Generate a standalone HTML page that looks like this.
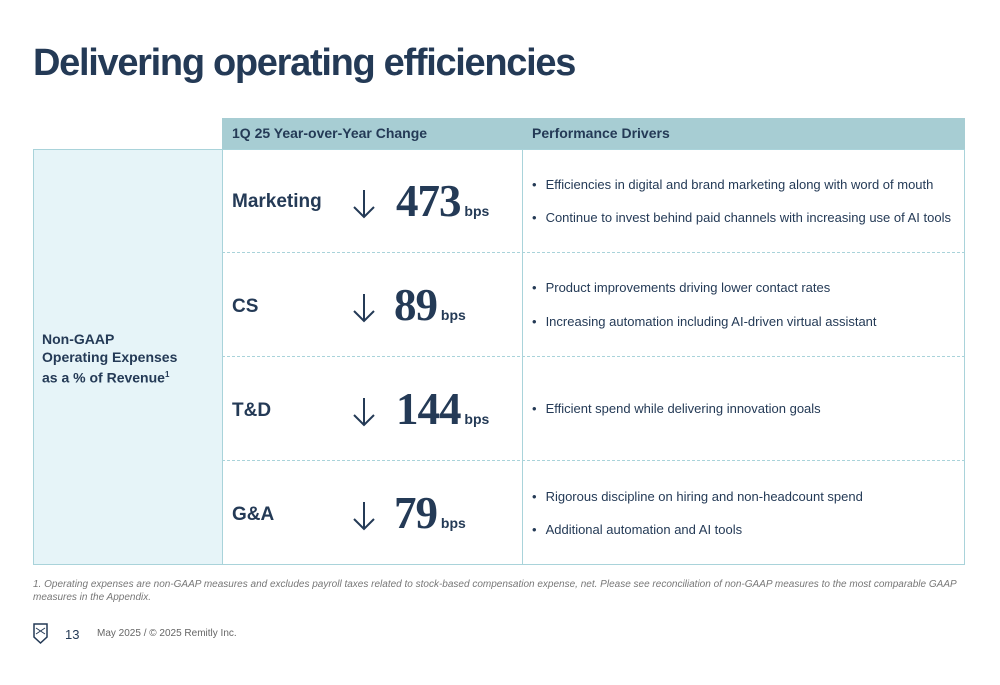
<!DOCTYPE html>
<html><head><meta charset="utf-8"><style>
body{margin:0;width:1000px;height:685px;background:#fff;position:relative;overflow:hidden;font-family:"Liberation Sans",sans-serif;color:#243a56}
.a{position:absolute}
h1{position:absolute;left:33px;top:42px;margin:0;font-size:38px;font-weight:bold;letter-spacing:-1.3px;color:#243a56}
.hdr{background:#a7cdd3;font-weight:bold;font-size:14px;line-height:31px;top:118px;height:31px}
.lbl{font-weight:bold;font-size:19px;left:232px}
.num{font-family:"Liberation Serif",serif;font-weight:bold;font-size:45px;letter-spacing:-1px}
.bps{font-weight:bold;font-size:14px}
.arr{left:352px}
.dash{left:222px;width:743px;border-top:1px dashed #a9d3da;height:0}
.b{font-size:13px;left:532px}
.b::before{content:"•";margin-right:9px}
</style></head><body>
<h1>Delivering operating efficiencies</h1>
<div class="a hdr" style="left:222px;width:300px;padding-left:10px;box-sizing:border-box">1Q 25 Year-over-Year Change</div>
<div class="a hdr" style="left:522px;width:443px;padding-left:10px;box-sizing:border-box">Performance Drivers</div>
<div class="a" style="left:33px;top:149px;width:188px;height:414px;background:#e6f4f8;border:1px solid #a9d3da"></div>
<div class="a" style="left:222px;top:149px;width:742px;height:414px;border:1px solid #a9d3da;border-left:none"></div>
<div class="a" style="left:522px;top:149px;width:1px;height:415px;background:#a9d3da"></div>
<div class="a" style="left:42px;top:330px;font-weight:bold;font-size:14px;line-height:18px">Non-GAAP<br>Operating Expenses<br>as a % of Revenue<sup style="font-size:8px">1</sup></div>
<div class="a dash" style="top:252px"></div>
<div class="a dash" style="top:356px"></div>
<div class="a dash" style="top:460px"></div>

<div class="a lbl" style="top:191px">Marketing</div>
<svg class="a arr" style="top:188px" width="24" height="32" viewBox="0 0 24 32"><path d="M12 2V29M2 19L12 29L22 19" fill="none" stroke="#243a56" stroke-width="2"/></svg>
<div class="a" style="left:396px;top:175px"><span class="num">473</span><span class="bps"> bps</span></div>

<div class="a lbl" style="top:296px">CS</div>
<svg class="a arr" style="top:292px" width="24" height="32" viewBox="0 0 24 32"><path d="M12 2V29M2 19L12 29L22 19" fill="none" stroke="#243a56" stroke-width="2"/></svg>
<div class="a" style="left:394px;top:279px"><span class="num">89</span><span class="bps"> bps</span></div>

<div class="a lbl" style="top:400px">T&amp;D</div>
<svg class="a arr" style="top:396px" width="24" height="32" viewBox="0 0 24 32"><path d="M12 2V29M2 19L12 29L22 19" fill="none" stroke="#243a56" stroke-width="2"/></svg>
<div class="a" style="left:396px;top:383px"><span class="num">144</span><span class="bps"> bps</span></div>

<div class="a lbl" style="top:504px">G&amp;A</div>
<svg class="a arr" style="top:500px" width="24" height="32" viewBox="0 0 24 32"><path d="M12 2V29M2 19L12 29L22 19" fill="none" stroke="#243a56" stroke-width="2"/></svg>
<div class="a" style="left:394px;top:487px"><span class="num">79</span><span class="bps"> bps</span></div>

<div class="a b" style="top:177px">Efficiencies in digital and brand marketing along with word of mouth</div>
<div class="a b" style="top:210px">Continue to invest behind paid channels with increasing use of AI tools</div>
<div class="a b" style="top:280px">Product improvements driving lower contact rates</div>
<div class="a b" style="top:314px">Increasing automation including AI-driven virtual assistant</div>
<div class="a b" style="top:401px">Efficient spend while delivering innovation goals</div>
<div class="a b" style="top:489px">Rigorous discipline on hiring and non-headcount spend</div>
<div class="a b" style="top:522px">Additional automation and AI tools</div>

<div class="a" style="left:33px;top:578px;width:930px;font-size:10px;font-style:italic;color:#777;line-height:13px">1. Operating expenses are non-GAAP measures and excludes payroll taxes related to stock-based compensation expense, net. Please see reconciliation of non-GAAP measures to the most comparable GAAP measures in the Appendix.</div>
<svg class="a" style="left:33px;top:623px" width="15" height="22" viewBox="0 0 15 22"><path d="M1 1h13v13l-6.5 6l-6.5-6z" fill="none" stroke="#243a56" stroke-width="1.5"/><path d="M3 5l9 6M12 5l-9 6" stroke="#243a56" stroke-width="1"/></svg>
<div class="a" style="left:65px;top:627px;font-size:13px">13</div>
<div class="a" style="left:97px;top:628px;font-size:10px;color:#666">May 2025 / © 2025 Remitly Inc.</div>
</body></html>
